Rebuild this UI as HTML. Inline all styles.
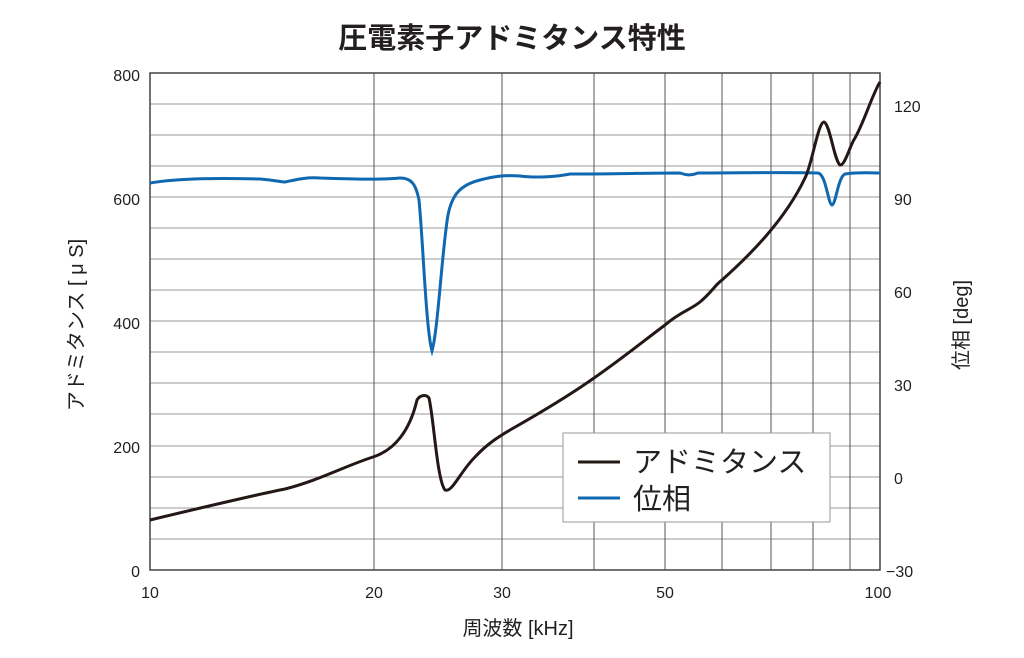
<!DOCTYPE html>
<html><head><meta charset="utf-8"><style>
body{margin:0;background:#fff}
svg text{font-family:"Liberation Sans","Noto Sans CJK JP",sans-serif;fill:#231f20}
</style></head><body>
<svg width="1024" height="653" viewBox="0 0 1024 653" xmlns="http://www.w3.org/2000/svg">
<text x="512" y="48" font-size="29" font-weight="bold" text-anchor="middle">圧電素子アドミタンス特性</text>
<g stroke="#999" stroke-width="1">
<line x1="150" x2="880" y1="104" y2="104"/><line x1="150" x2="880" y1="135" y2="135"/>
<line x1="150" x2="880" y1="166" y2="166"/><line x1="150" x2="880" y1="197" y2="197"/>
<line x1="150" x2="880" y1="228" y2="228"/><line x1="150" x2="880" y1="259" y2="259"/>
<line x1="150" x2="880" y1="290" y2="290"/><line x1="150" x2="880" y1="321" y2="321"/>
<line x1="150" x2="880" y1="352" y2="352"/><line x1="150" x2="880" y1="383" y2="383"/>
<line x1="150" x2="880" y1="414" y2="414"/><line x1="150" x2="880" y1="446" y2="446"/>
<line x1="150" x2="880" y1="477" y2="477"/><line x1="150" x2="880" y1="508" y2="508"/>
<line x1="150" x2="880" y1="539" y2="539"/>
</g>
<g stroke="#555" stroke-width="1">
<line x1="374" x2="374" y1="73" y2="570"/><line x1="502" x2="502" y1="73" y2="570"/>
<line x1="594" x2="594" y1="73" y2="570"/><line x1="665" x2="665" y1="73" y2="570"/>
<line x1="722" x2="722" y1="73" y2="570"/><line x1="771" x2="771" y1="73" y2="570"/>
<line x1="813" x2="813" y1="73" y2="570"/><line x1="850" x2="850" y1="73" y2="570"/>
</g>
<rect x="150" y="73" width="730" height="497" fill="none" stroke="#444" stroke-width="1.5"/>
<g font-size="16" text-anchor="end">
<text x="140" y="81">800</text><text x="140" y="205">600</text><text x="140" y="329">400</text>
<text x="140" y="453">200</text><text x="140" y="577">0</text>
</g>
<g font-size="16" text-anchor="start">
<text x="894" y="112">120</text><text x="894" y="205">90</text><text x="894" y="298">60</text>
<text x="894" y="391">30</text><text x="894" y="484">0</text><text x="886" y="577">−30</text>
</g>
<g font-size="16" text-anchor="middle">
<text x="150" y="598">10</text><text x="374" y="598">20</text><text x="502" y="598">30</text>
<text x="665" y="598">50</text><text x="878" y="598">100</text>
</g>
<text x="518" y="635" font-size="20" text-anchor="middle">周波数 [kHz]</text>
<text transform="translate(83,325) rotate(-90)" font-size="20" text-anchor="middle">アドミタンス [ μ S]</text>
<text transform="translate(968,325) rotate(-90)" font-size="20" text-anchor="middle">位相 [deg]</text>
<path fill="none" stroke="#1068b0" stroke-width="3" d="M150,183 C180,178 220,178 260,179 C275,180 280,182 285,182 C295,180 305,177 320,178 C350,179 380,180 400,178 C412,178 416,185 419,200 C423,240 426,330 432,351 C438,330 442,250 448,215 C452,195 460,185 480,180 C495,176 505,175 520,176 C535,178 555,177 570,174 C610,174 650,173 680,173 C686,175 690,176 698,173 C740,173 790,172 818,173 C826,174 828,204 832,205 C836,204 838,177 845,174 C860,172 870,173 880,173"/>
<path fill="none" stroke="#231815" stroke-width="3" d="M150,520 C200,508 250,496 285,489 C320,480 345,466 373,457 C395,450 410,430 417,400 C420,395 426,394 429,398 C434,420 437,480 445,490 C452,493 460,472 475,457 C488,443 500,436 510,430 C540,413 570,395 594,378 C620,360 645,340 665,325 C680,312 690,310 700,302 C712,292 715,285 722,280 C750,255 785,220 805,178 C812,165 818,122 824,122 C830,124 834,160 840,165 C845,166 850,145 855,138 C865,120 872,95 880,82"/>
<rect x="563" y="433" width="267" height="89" fill="#fff" stroke="#999" stroke-width="1"/>
<line x1="578" x2="620" y1="462" y2="462" stroke="#231815" stroke-width="3"/>
<line x1="578" x2="620" y1="498" y2="498" stroke="#1068b0" stroke-width="3"/>
<text x="633" y="472" font-size="29">アドミタンス</text>
<text x="633" y="509" font-size="29">位相</text>
</svg>
</body></html>
